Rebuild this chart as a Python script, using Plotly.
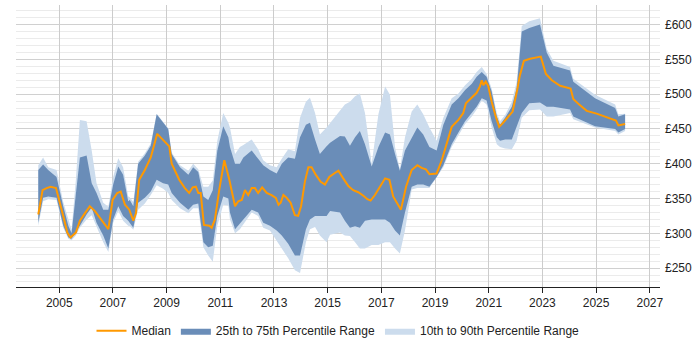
import plotly.graph_objects as go

# ---- data (decimal years, £ per day) ----
median_years = [2004.22, 2004.38, 2004.53, 2004.68, 2004.88, 2005.00, 2005.15, 2005.30, 2005.42, 2005.62,
                2005.77, 2005.96, 2006.14, 2006.33, 2006.52, 2006.67, 2006.83, 2006.99, 2007.16, 2007.29,
                2007.45, 2007.61, 2007.76, 2007.86, 2007.98, 2008.19, 2008.41, 2008.65, 2008.87, 2009.10,
                2009.19, 2009.47, 2009.68, 2009.84, 2009.97, 2010.09, 2010.18, 2010.27, 2010.39, 2010.59,
                2010.68, 2010.80, 2010.96, 2011.15, 2011.33, 2011.55, 2011.67, 2011.80, 2011.92, 2012.04,
                2012.17, 2012.29, 2012.41, 2012.56, 2012.73, 2012.91, 2013.07, 2013.17, 2013.25, 2013.35,
                2013.47, 2013.62, 2013.78, 2013.90, 2014.01, 2014.15, 2014.28, 2014.40, 2014.56, 2014.74,
                2014.90, 2015.06, 2015.24, 2015.40, 2015.58, 2015.77, 2015.95, 2016.14, 2016.33, 2016.48,
                2016.60, 2016.76, 2016.92, 2017.14, 2017.30, 2017.44, 2017.73, 2017.92, 2018.13, 2018.34,
                2018.50, 2018.66, 2018.79, 2019.06, 2019.25, 2019.43, 2019.62, 2019.87, 2020.05, 2020.15,
                2020.37, 2020.55, 2020.67, 2020.74, 2020.80, 2020.89, 2020.98, 2021.11, 2021.26, 2021.39,
                2021.54, 2021.73, 2021.89, 2022.06, 2022.16, 2022.31, 2022.54, 2022.94, 2023.13, 2023.35,
                2023.66, 2024.05, 2024.15, 2024.37, 2024.65, 2025.02, 2025.40, 2025.74, 2025.83, 2026.08]
median_vals = [327, 362, 365, 367, 365, 348, 325, 301, 294, 301,
               318, 329, 339, 332, 322, 313, 306, 348, 358, 360,
               341, 334, 318, 329, 377, 391, 409, 443, 434, 425,
               400, 377, 365, 358, 366, 367, 358, 358, 312, 311,
               308, 320, 362, 405, 378, 339, 346, 348, 362, 355,
               365, 365, 358, 366, 358, 355, 351, 341, 344, 355,
               351, 344, 326, 325, 339, 374, 395, 395, 384, 374,
               370, 381, 386, 390, 379, 368, 362, 359, 354, 349,
               347, 355, 365, 379, 377, 353, 334, 367, 391, 398,
               394, 392, 385, 386, 405, 428, 453, 463, 473, 487,
               495, 502, 511, 520, 513, 518, 512, 489, 468, 453,
               459, 467, 475, 506, 527, 548, 551, 554, 529, 520,
               512, 508, 493, 485, 476, 472, 467, 462, 455, 457]

band_years = [2004.22, 2004.40, 2004.59, 2004.90, 2005.15, 2005.34, 2005.46, 2005.62, 2005.77, 2006.02,
              2006.21, 2006.39, 2006.64, 2006.83, 2007.01, 2007.20, 2007.38, 2007.57, 2007.63, 2007.76,
              2007.94, 2008.19, 2008.41, 2008.63, 2008.87, 2009.06, 2009.19, 2009.50, 2009.81, 2009.99,
              2010.18, 2010.37, 2010.55, 2010.72, 2010.89, 2011.11, 2011.30, 2011.36, 2011.55, 2011.73,
              2011.86, 2012.17, 2012.41, 2012.60, 2012.85, 2013.10, 2013.29, 2013.53, 2013.78, 2013.97,
              2014.19, 2014.34, 2014.53, 2014.71, 2014.96, 2015.09, 2015.46, 2015.64, 2015.83, 2016.02,
              2016.20, 2016.39, 2016.64, 2016.89, 2017.14, 2017.32, 2017.51, 2017.69, 2017.88, 2018.13,
              2018.34, 2018.56, 2018.79, 2019.06, 2019.31, 2019.62, 2019.87, 2020.12, 2020.37, 2020.55,
              2020.74, 2020.92, 2021.11, 2021.30, 2021.42, 2021.61, 2021.86, 2022.04, 2022.23, 2022.51,
              2022.91, 2023.16, 2023.41, 2024.03, 2024.15, 2024.96, 2025.71, 2025.83, 2026.08]
p90_vals = [398, 409, 395, 391, 345, 320, 305, 377, 463, 461,
            419, 372, 344, 338, 381, 408, 395, 353, 352, 345,
            403, 415, 429, 472, 460, 451, 416, 398, 390, 400,
            392, 367, 367, 376, 433, 473, 459, 452, 414, 424,
            427, 435, 421, 405, 398, 395, 407, 421, 418, 466,
            489, 495, 473, 442, 452, 458, 475, 485, 489, 497,
            501, 473, 400, 471, 511, 499, 424, 392, 438, 475,
            485, 471, 452, 433, 466, 494, 501, 513, 522, 532,
            539, 529, 508, 473, 461, 470, 489, 518, 598, 605,
            609, 565, 548, 539, 522, 499, 485, 471, 472]
q75_vals = [391, 399, 391, 381, 339, 311, 300, 353, 409, 412,
            372, 358, 334, 334, 370, 396, 384, 346, 348, 339,
            400, 412, 426, 471, 459, 450, 414, 395, 384, 395,
            388, 353, 348, 362, 419, 454, 438, 424, 400, 400,
            409, 419, 407, 398, 391, 386, 400, 409, 407, 438,
            456, 459, 435, 414, 425, 430, 440, 439, 426, 438,
            447, 428, 396, 424, 445, 442, 414, 390, 419, 438,
            452, 442, 424, 419, 456, 485, 494, 506, 515, 525,
            532, 525, 504, 468, 456, 466, 482, 508, 590, 595,
            600, 560, 541, 534, 518, 494, 480, 468, 471]
q25_vals = [315, 351, 353, 351, 311, 294, 292, 301, 311, 327,
            337, 315, 297, 278, 320, 339, 325, 318, 315, 308,
            344, 351, 360, 377, 372, 370, 358, 344, 334, 341,
            343, 287, 280, 282, 325, 353, 350, 330, 306, 313,
            320, 334, 330, 315, 311, 304, 297, 285, 268, 268,
            306, 320, 325, 325, 325, 332, 330, 318, 308, 310,
            308, 318, 320, 320, 320, 315, 304, 297, 330, 367,
            370, 370, 367, 381, 398, 428, 445, 461, 473, 482,
            494, 491, 461, 438, 433, 435, 435, 452, 473, 487,
            488, 482, 482, 478, 468, 454, 450, 445, 450]
p10_vals = [311, 346, 349, 348, 308, 292, 290, 297, 308, 320,
            326, 310, 287, 273, 315, 332, 318, 311, 310, 305,
            334, 343, 355, 369, 364, 358, 348, 336, 329, 336,
            336, 280, 268, 259, 311, 341, 340, 320, 300, 306,
            312, 330, 325, 308, 304, 290, 278, 264, 247, 243,
            287, 306, 309, 297, 287, 298, 301, 297, 296, 287,
            278, 278, 283, 283, 287, 287, 278, 271, 304, 363,
            365, 365, 365, 380, 395, 424, 440, 457, 468, 478,
            491, 485, 452, 428, 424, 422, 421, 433, 466, 477,
            478, 468, 468, 473, 464, 452, 447, 442, 447]

y_ticks = [250, 300, 350, 400, 450, 500, 550, 600]
x_ticks = [2005, 2007, 2009, 2011, 2013, 2015, 2017, 2019, 2021, 2023, 2025, 2027]

assert len(median_years) == len(median_vals)
for arr in (p90_vals, q75_vals, q25_vals, p10_vals):
    assert len(arr) == len(band_years), len(arr)

DARK = "rgb(106,141,184)"
LIGHT = "rgb(204,220,237)"
ORANGE = "rgb(255,153,0)"
FONT = "Liberation Sans, Arial, sans-serif"

fig = go.Figure()
fig.add_trace(go.Scatter(
    x=band_years + band_years[::-1], y=p90_vals + p10_vals[::-1],
    fill="toself", fillcolor=LIGHT, mode="lines", line=dict(width=0, color=LIGHT),
    name="10th to 90th Percentile Range", legendrank=3, hoverinfo="skip"))
fig.add_trace(go.Scatter(
    x=band_years + band_years[::-1], y=q75_vals + q25_vals[::-1],
    fill="toself", fillcolor=DARK, mode="lines", line=dict(width=0, color=DARK),
    name="25th to 75th Percentile Range", legendrank=2, hoverinfo="skip"))
fig.add_trace(go.Scatter(
    x=median_years, y=median_vals, mode="lines",
    line=dict(color=ORANGE, width=2), name="Median", legendrank=1))

fig.update_layout(
    width=700, height=350,
    margin=dict(l=16, r=40, t=5, b=58),
    paper_bgcolor="white", plot_bgcolor="white",
    font=dict(family=FONT, size=12, color="#222"),
    showlegend=True,
    legend=dict(orientation="h", x=0.5, xanchor="center", y=-0.155, yanchor="middle",
                font=dict(size=12, color="#222"), traceorder="normal",
                itemwidth=30),
)
fig.update_xaxes(
    range=[2003.39, 2027.38], tickmode="array", tickvals=x_ticks,
    ticktext=[str(t) for t in x_ticks],
    showgrid=True, gridcolor="#cccccc", gridwidth=1,
    showline=True, linecolor="#222", linewidth=1,
    ticks="outside", ticklen=5, tickcolor="#222", zeroline=False,
)
fig.update_yaxes(
    range=[222.8, 628.2], side="right", tickmode="array", tickvals=y_ticks,
    ticktext=["£" + str(t) for t in y_ticks], ticklabelstandoff=4,
    showgrid=True, gridcolor="#d0d0d0", gridwidth=1,
    minor=dict(dtick=10, tick0=0, showgrid=True, gridcolor="#ebebeb", gridwidth=1),
    showline=False, ticks="", zeroline=False,
)

fig.write_html("out.html")
